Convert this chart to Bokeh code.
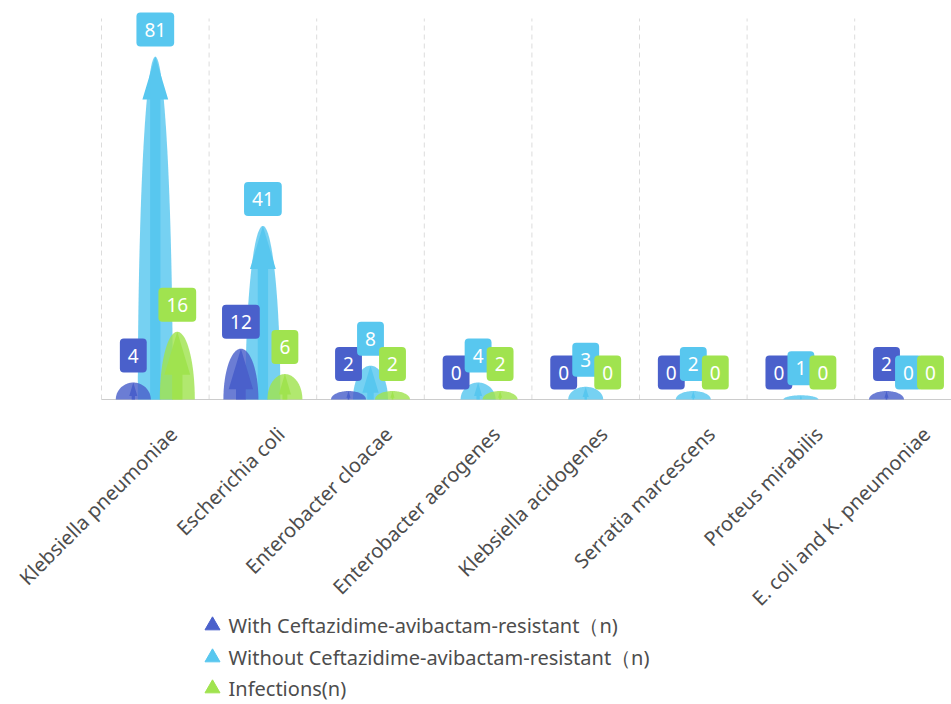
import numpy as np
from bokeh.plotting import figure
from bokeh.models import ColumnDataSource, Range1d
from bokeh.core.properties import value
from bokeh.embed import file_html
from bokeh.resources import INLINE

categories = [
    "Klebsiella pneumoniae",
    "Escherichia coli",
    "Enterobacter cloacae",
    "Enterobacter aerogenes",
    "Klebsiella acidogenes",
    "Serratia marcescens",
    "Proteus mirabilis",
    "E. coli and K. pneumoniae",
]
with_resistant = [4, 12, 2, 0, 0, 0, 0, 2]
without_resistant = [81, 41, 8, 4, 3, 2, 1, 0]
infections = [16, 6, 2, 2, 0, 0, 0, 0]
series_names = [
    "With Ceftazidime-avibactam-resistant（n)",
    "Without Ceftazidime-avibactam-resistant（n)",
    "Infections(n)",
]
series_values = [with_resistant, without_resistant, infections]
colors = ["#4a60cb", "#58c7ef", "#a0e34f"]

FONT = "Noto Sans"
W, H = 951, 704

# The frame fills the whole canvas; the chart area is laid out inside it.
AREA_LEFT, AREA_TOP, BASELINE = 101, 18, 399   # pixels
CAT_PX = 107.6                                  # pixel width of one category
Y_MAX = 90
PX_PER_Y = (BASELINE - AREA_TOP) / Y_MAX
PX_X = 1.0 / CAT_PX                             # data units per pixel (x)
PX_Y = 1.0 / PX_PER_Y                           # data units per pixel (y)


def sx(px):
    return (px - AREA_LEFT) * PX_X


def sy(py):
    return (BASELINE - py) * PX_Y


p = figure(
    width=W, height=H,
    x_range=Range1d(sx(0), sx(W)), y_range=Range1d(sy(H), sy(0)),
    output_backend="svg", toolbar_location=None,
    min_border=0,
)
p.outline_line_color = None
p.background_fill_color = "white"
p.border_fill_color = "white"
p.axis.visible = False
p.grid.visible = False

n = len(categories)
centers = [i + 0.5 for i in range(n)]

# dashed separators between categories
bounds = list(range(n + 1))
p.segment(x0=bounds, y0=[0] * len(bounds), x1=bounds, y1=[Y_MAX] * len(bounds),
          line_color="#dcdcdc", line_dash="5 4", line_width=1)
# baseline
p.segment(x0=[0], y0=[0], x1=[sx(W)], y1=[0], line_color="#cccccc", line_width=1)

offsets_px = [-22, 0, 22]
BAR_W = 35


def bell(cx, v):
    t = np.linspace(0, np.pi, 60)
    xs = cx + (BAR_W / 2 * PX_X) * np.cos(t)
    ys = v * np.sin(t)
    return list(xs), list(ys)


def arrow(cx, v):
    h = v * PX_PER_Y
    hh = min(43.0, 0.8 * h)
    hw = min(26.0, 0.6 * hh)
    sw = 0.4 * hw
    base = v - hh * PX_Y
    dx_h = hw / 2 * PX_X
    dx_s = sw / 2 * PX_X
    xs = [cx - dx_s, cx - dx_s, cx - dx_h, cx, cx + dx_h, cx + dx_s, cx + dx_s]
    ys = [0, base, base, v, base, base, 0]
    return xs, ys


# draw order: light blue behind, then dark blue, then green
for k in [1, 0, 2]:
    vals = series_values[k]
    bxs, bys, axs, ays = [], [], [], []
    for i, v in enumerate(vals):
        if v <= 0:
            continue
        cx = centers[i] + offsets_px[k] * PX_X
        x1, y1 = bell(cx, v)
        bxs.append(x1); bys.append(y1)
        x2, y2 = arrow(cx, v)
        axs.append(x2); ays.append(y2)
    p.patches(bxs, bys, fill_color=colors[k], fill_alpha=0.82, line_color=None)
    p.patches(axs, ays, fill_color=colors[k], fill_alpha=1.0, line_color=None)

# value badges
for k in [0, 1, 2]:
    vals = series_values[k]
    src = ColumnDataSource(dict(
        x=[c + offsets_px[k] * PX_X for c in centers],
        y=vals,
        t=[str(v) for v in vals],
    ))
    p.text(
        x="x", y="y", text="t", source=src,
        anchor="bottom_center", y_offset=-10,
        text_color="white", text_font=value(FONT), text_font_size="19px",
        background_fill_color=colors[k], background_fill_alpha=1.0,
        padding=(8, 10), border_radius=4,
    )

# category labels, rotated 45 degrees
p.text(
    x=centers, y=[0] * n, text=categories,
    angle=np.pi / 4, text_align="right", text_baseline="middle",
    x_offset=18, y_offset=31,
    text_color="#4d4d4d", text_font=value(FONT), text_font_size="20px",
)

# legend
leg_y_px = [625, 657, 688]
for k in range(3):
    p.scatter(x=[sx(212)], y=[sy(leg_y_px[k])], marker="triangle", size=15,
              fill_color=colors[k], line_color=colors[k])
p.text(
    x=[sx(228)] * 3, y=[sy(py) for py in leg_y_px], text=series_names,
    text_align="left", text_baseline="middle",
    text_color="#4d4d4d", text_font=value(FONT), text_font_size="20px",
)

open("out.html", "w").write(file_html(p, INLINE))
